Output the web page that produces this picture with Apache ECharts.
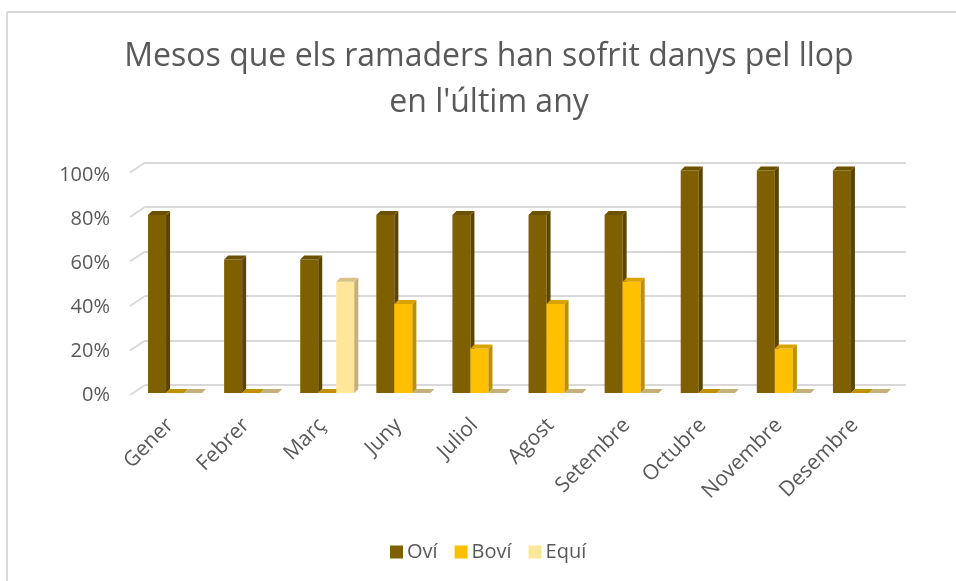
<!DOCTYPE html>
<html>
<head>
<meta charset="utf-8">
<script src="https://cdn.jsdelivr.net/npm/echarts@6/dist/echarts.min.js"></script>
<style>
  html, body { margin: 0; padding: 0; background: #fff; }
  #chart { width: 956px; height: 581px; }
</style>
</head>
<body>
<div id="chart"></div>
<script>
// dades llegides del gràfic
var months = ['Gener', 'Febrer', 'Març', 'Juny', 'Juliol', 'Agost', 'Setembre', 'Octubre', 'Novembre', 'Desembre'];
var ovi  = [80, 60, 60, 80, 80, 80, 80, 100, 100, 100];
var bovi = [0, 0, 0, 40, 20, 40, 50, 0, 20, 0];
var equi = [0, 0, 50, 0, 0, 0, 0, 0, 0, 0];
var yTicks = [0, 20, 40, 60, 80, 100];

var FONT = '"Open Sans", "Liberation Sans", sans-serif';
var TXT = '#595959';

// colors: front, side, top
var shades = [
  ['#7F6000', '#5A4400', '#6B5100'],
  ['#FFC000', '#BF9000', '#D9A300'],
  ['#FFE699', '#C4B07A', '#D6C387']
];

function barSeries(name, values, idx) {
  return {
    name: name,
    type: 'custom',
    xAxisIndex: 0,
    yAxisIndex: 0,
    itemStyle: { color: shades[idx][0] },
    data: values.map(function (v, i) { return [i, v]; }),
    renderItem: function (params, api) {
      var i = api.value(0), v = api.value(1);
      var base = api.coord([i, 0]);
      var top = api.coord([i, v]);
      var band = api.size([1, 0])[0];
      var w = band * 18 / 76;
      var l = base[0] - w * 1.5 + idx * w;
      var r = l + w;
      var y0 = base[1], y1 = top[1];
      var d = 4;
      var c = shades[idx];
      var kids = [];
      if (y0 - y1 > 0.5) {
        kids.push({ type: 'rect', shape: { x: l, y: y1, width: w, height: y0 - y1 }, style: { fill: c[0] } });
        kids.push({ type: 'polygon', shape: { points: [[r, y1], [r + d, y1 - d], [r + d, y0 - d], [r, y0]] }, style: { fill: c[1] } });
      }
      kids.push({ type: 'polygon', shape: { points: [[l, y1], [l + d, y1 - d], [r + d, y1 - d], [r, y1]] }, style: { fill: v > 0 ? c[2] : c[1] } });
      return { type: 'group', children: kids };
    }
  };
}

var chart = echarts.init(document.getElementById('chart'));
chart.setOption({
  animation: false,
  graphic: [
    { type: 'line', shape: { x1: 7, y1: 12, x2: 956, y2: 12 }, style: { stroke: '#d9d9d9', lineWidth: 2 } },
    { type: 'line', shape: { x1: 7, y1: 12, x2: 7, y2: 581 }, style: { stroke: '#d9d9d9', lineWidth: 2 } },
    {
      type: 'text', x: 489, y: 34,
      style: {
        text: 'Mesos que els ramaders han sofrit danys pel llop\nen l\'últim any',
        textAlign: 'center', fill: TXT, font: '32px ' + FONT, lineHeight: 46
      }
    }
  ],
  legend: {
    left: 385, top: 537,
    icon: 'rect', itemWidth: 13, itemHeight: 13, itemGap: 17,
    textStyle: { fontFamily: FONT, fontSize: 20, color: TXT, padding: [0, 0, 0, -1] },
    data: ['Oví', 'Boví', 'Equí']
  },
  grid: [
    { left: 137, right: 58, top: 170.5, bottom: 188 },   // barres (pla frontal)
    { left: 145, right: 50, top: 162.5, bottom: 196 },   // línies de quadrícula (pla posterior)
    { left: 132, right: 63, top: 175, bottom: 186 }      // etiquetes
  ],
  xAxis: [
    { type: 'category', gridIndex: 0, data: months, show: false },
    { type: 'value', gridIndex: 1, min: 0, max: 1, show: false },
    {
      type: 'category', gridIndex: 2, data: months,
      axisLine: { show: false }, axisTick: { show: false },
      axisLabel: { rotate: 45, margin: 27, interval: 0, fontFamily: FONT, fontSize: 21, color: TXT }
    }
  ],
  yAxis: [
    { type: 'value', gridIndex: 0, min: 0, max: 100, interval: 20, show: false },
    {
      type: 'value', gridIndex: 1, min: 0, max: 100, interval: 20,
      axisLine: { show: false }, axisTick: { show: false }, axisLabel: { show: false },
      splitLine: { lineStyle: { color: '#d9d9d9', width: 2 } }
    },
    {
      type: 'value', gridIndex: 2, min: 0, max: 100, interval: 20,
      axisLine: { show: false }, axisTick: { show: false }, splitLine: { show: false },
      axisLabel: { formatter: '{value}%', margin: 22, fontFamily: FONT, fontSize: 20, color: TXT }
    }
  ],
  series: [
    {
      type: 'custom', xAxisIndex: 1, yAxisIndex: 1, silent: true,
      data: yTicks.map(function (t) { return [0, t]; }),
      renderItem: function (params, api) {
        var p = api.coord([0, api.value(1)]);
        return { type: 'line', shape: { x1: p[0] - 15, y1: p[1] + 10, x2: p[0], y2: p[1] }, style: { stroke: '#d9d9d9', lineWidth: 2 } };
      }
    },
    barSeries('Oví', ovi, 0),
    barSeries('Boví', bovi, 1),
    barSeries('Equí', equi, 2)
  ]
});
</script>
</body>
</html>
